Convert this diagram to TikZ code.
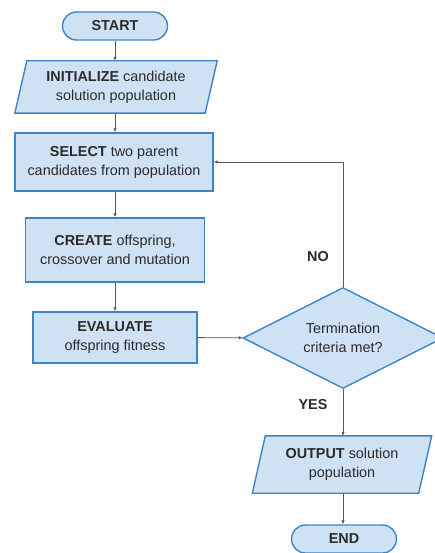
\documentclass[tikz,border=0pt]{standalone}
\usepackage{fontspec}
\setmainfont{Liberation Sans}
\usetikzlibrary{shapes.geometric,arrows.meta,backgrounds}
\definecolor{boxfill}{HTML}{CFE2F3}
\definecolor{boxline}{HTML}{3D85C6}
\definecolor{wire}{HTML}{595959}
\definecolor{ink}{HTML}{2B2B2B}

% slanted outline behind an input/output node: #1 node name, #2 half slant
\newcommand{\ioframe}[2]{%
  \begin{pgfonlayer}{background}
    \draw[boxstyle] ([xshift=#2]#1.north west) -- ([xshift=#2]#1.north east)
      -- ([xshift=-#2]#1.south east) -- ([xshift=-#2]#1.south west) -- cycle;
  \end{pgfonlayer}}

\begin{document}
\begin{tikzpicture}[x=1pt,y=-1pt,
  every node/.style={font=\fontsize{14.4}{19}\selectfont, text=ink},
  boxstyle/.style={draw=boxline, fill=boxfill, line width=1.4pt, line join=miter},
  box/.style={boxstyle, align=center, inner sep=0pt},
  term/.style={box, rounded corners=14pt, minimum width=105pt, minimum height=28pt},
  proc/.style={box, rectangle},
  io/.style={rectangle, align=center, inner sep=0pt},
  decide/.style={box, diamond, aspect=2, minimum width=200pt, minimum height=101pt},
  link/.style={draw=wire, line width=0.9pt, -{Latex[length=4pt,width=3.5pt]}},
  tag/.style={font=\fontsize{14.4}{19}\selectfont\bfseries}
]
\useasboundingbox (0,0) rectangle (435,553);

% main column
\node[term] (start) at (115,26) {\textbf{START}};
\node[io, minimum width=190pt, minimum height=52pt] (init) at (116,87)
  {\textbf{INITIALIZE} candidate\\solution population};
\ioframe{init}{6pt}
\node[proc, minimum width=198pt, minimum height=58pt] (select) at (114,162)
  {\textbf{SELECT} two parent\\candidates from population};
\node[proc, minimum width=179pt, minimum height=64pt] (create) at (115,250)
  {\textbf{CREATE} offspring,\\crossover and mutation};
\node[proc, minimum width=164pt, minimum height=51pt] (eval) at (115,337.5)
  {\textbf{EVALUATE}\\offspring fitness};

% decision and exit column
\node[decide] (check) at (343,338) {Termination\\criteria met?};
\node[io, minimum width=166pt, minimum height=57pt] (out) at (342,464.5)
  {\textbf{OUTPUT} solution\\population};
\ioframe{out}{6.5pt}
\node[term] (stop) at (344,539) {\textbf{END}};

% connectors
\draw[link] (start.south -| 115,0) -- (init.north -| 115,0);
\draw[link] (init.south -| 115,0) -- (select.north -| 115,0);
\draw[link] (select.south -| 115,0) -- (create.north -| 115,0);
\draw[link] (create) -- (eval);
\draw[link] (eval) -- (check);
\draw[link] (check.north) |- (select.east);
\draw[link] (check.south) -- (check.south |- out.north);
\draw[link] (out.south -| check.south) -- (stop.north -| check.south);

% branch labels
\node[tag] (no) at (318,257) {NO};
\node[tag] (yes) at (313,405) {YES};
\end{tikzpicture}
\end{document}
